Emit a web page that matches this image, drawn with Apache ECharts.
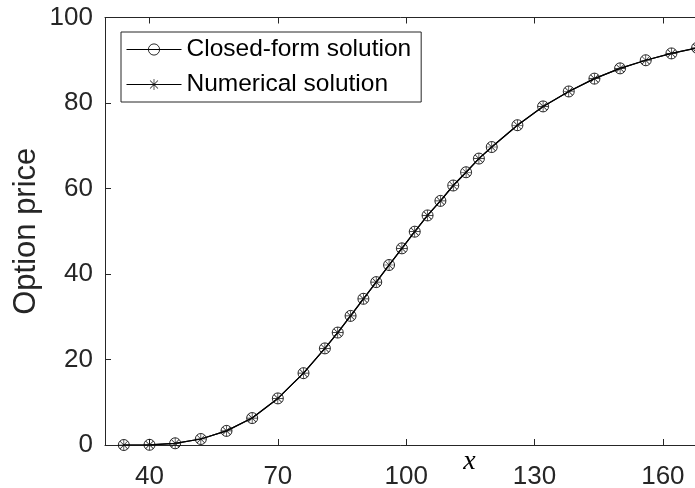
<!DOCTYPE html>
<html>
<head>
<meta charset="utf-8">
<script src="https://cdn.jsdelivr.net/npm/echarts@6/dist/echarts.min.js"></script>
<style>
  html, body { margin: 0; padding: 0; background: #fff; }
  #chart { width: 695px; height: 488px; }
</style>
</head>
<body>
<div id="chart"></div>
<script>
  // underlying asset value x
  const xValues = [34, 40, 46, 52, 58, 64, 70, 76, 81, 84, 87, 90, 93, 96, 99, 102, 105, 108, 111, 114, 117, 120, 126, 132, 138, 144, 150, 156, 162, 168]
  const closedForm = [0.0, 0.05, 0.4, 1.4, 3.3, 6.3, 10.9, 16.8, 22.6, 26.3, 30.2, 34.2, 38.1, 42.1, 46.0, 49.9, 53.7, 57.1, 60.7, 63.8, 67.0, 69.7, 74.8, 79.2, 82.7, 85.7, 88.1, 90.0, 91.6, 92.9]
  const numerical = [0.0, 0.05, 0.4, 1.4, 3.3, 6.3, 10.9, 16.8, 22.6, 26.3, 30.2, 34.2, 38.1, 42.1, 46.0, 49.9, 53.7, 57.1, 60.7, 63.8, 67.0, 69.7, 74.8, 79.2, 82.7, 85.7, 88.1, 90.0, 91.6, 92.9]
  const xTicks = [40, 70, 100, 130, 160]
  const seriesNames = ['Closed-form solution', 'Numerical solution']

  const axisColor = '#262626'
  const font = '"Liberation Sans", Arial, sans-serif'

  // 8-spoke asterisk marker like matlab '*'
  const asterisk = 'path://M9.4 0L10.6 0L10.6 20L9.4 20Z M0 9.4L20 9.4L20 10.6L0 10.6Z ' +
    'M2.5 3.35L3.35 2.5L17.5 16.65L16.65 17.5Z M16.65 2.5L17.5 3.35L3.35 17.5L2.5 16.65Z'

  const pair = (ys) => xValues.map((x, i) => [x, ys[i]])

  const xAxisBase = {
    type: 'value',
    min: 29.6,
    max: 200,
    splitLine: { show: false },
    axisLine: { show: true, onZero: false, lineStyle: { color: axisColor, width: 1 } },
    axisTick: { show: true, inside: true, length: 6, customValues: xTicks, lineStyle: { color: axisColor } },
  }

  const chart = echarts.init(document.getElementById('chart'), null, { renderer: 'canvas' })

  chart.setOption({
    animation: false,
    backgroundColor: '#fff',
    grid: { left: 105, top: 17.5, width: 729, height: 427.5, containLabel: false, outerBoundsMode: 'none' },
    legend: {
      orient: 'vertical',
      left: 121,
      top: 32,
      padding: [3.5, 10, 3.5, 5],
      itemGap: 7,
      itemWidth: 55,
      itemHeight: 14,
      backgroundColor: '#fff',
      borderColor: axisColor,
      borderWidth: 1,
      lineStyle: { width: 1 },
      textStyle: { fontFamily: font, fontSize: 24.5, color: '#000', lineHeight: 28 },
      data: [
        { name: seriesNames[0], itemStyle: { borderWidth: 0.9 } },
        { name: seriesNames[1] },
      ],
    },
    xAxis: [
      Object.assign({}, xAxisBase, {
        position: 'bottom',
        name: 'x',
        nameLocation: 'middle',
        nameGap: 3,
        nameMoveOverlap: false,
        nameTextStyle: { fontFamily: '"Liberation Serif", "DejaVu Serif", serif', fontStyle: 'italic', fontSize: 28, color: '#000' },
        axisLabel: { customValues: xTicks, margin: 19, fontFamily: font, fontSize: 26, color: axisColor },
      }),
      Object.assign({}, xAxisBase, {
        position: 'top',
        axisLabel: { show: false },
      }),
    ],
    yAxis: {
      type: 'value',
      min: 0,
      max: 100,
      interval: 20,
      name: 'Option price',
      nameLocation: 'middle',
      nameGap: 63,
      nameMoveOverlap: false,
      nameTextStyle: { fontFamily: font, fontSize: 31, color: axisColor },
      splitLine: { show: false },
      axisLine: { show: true, lineStyle: { color: axisColor, width: 1 } },
      axisTick: { show: true, inside: true, length: 6, lineStyle: { color: axisColor } },
      axisLabel: { margin: 12, fontFamily: font, fontSize: 26, color: axisColor },
    },
    series: [
      {
        name: seriesNames[0],
        type: 'line',
        xAxisIndex: 0,
        data: pair(closedForm),
        symbol: 'circle',
        symbolSize: 11,
        showAllSymbol: true,
        lineStyle: { color: '#000', width: 1.2 },
        itemStyle: { color: 'rgba(255,255,255,0)', borderColor: '#111', borderWidth: 0.9 },
        z: 2,
      },
      {
        name: seriesNames[1],
        type: 'line',
        xAxisIndex: 0,
        data: pair(numerical),
        symbol: asterisk,
        symbolSize: 11,
        showAllSymbol: true,
        lineStyle: { color: '#000', width: 1.2 },
        itemStyle: { color: '#111', borderWidth: 0 },
        z: 3,
      },
    ],
  })
</script>
</body>
</html>
